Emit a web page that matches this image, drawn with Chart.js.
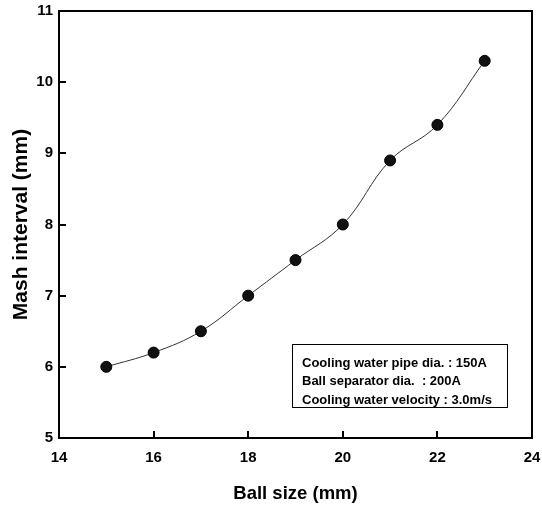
<!DOCTYPE html>
<html>
<head>
<meta charset="utf-8">
<script src="https://cdn.jsdelivr.net/npm/chart.js@4"></script>
<style>
  html, body { margin: 0; padding: 0; background: #fff; }
  #wrap { width: 542px; height: 508px; }
</style>
</head>
<body>
<div id="wrap"><canvas id="c" width="542" height="508"></canvas></div>
<script>
// values
const ballSize = [15, 16, 17, 18, 19, 20, 21, 22, 23];
const mashInterval = [6.0, 6.2, 6.5, 7.0, 7.5, 8.0, 8.9, 9.4, 10.3];
const xTicks = [14, 16, 18, 20, 22, 24];
const yTicks = [5, 6, 7, 8, 9, 10, 11];
const noteLines = [
  'Cooling water pipe dia. : 150A',
  'Ball separator dia.  : 200A',
  'Cooling water velocity : 3.0m/s'
];

const FONT = '"Liberation Sans", Arial, sans-serif';

// frame, inward ticks and the note box
const framePlugin = {
  id: 'frame',
  afterDraw(chart) {
    const { ctx, chartArea: a, scales } = chart;
    ctx.save();
    ctx.strokeStyle = '#000';
    ctx.lineWidth = 2;
    ctx.strokeRect(a.left, a.top, a.right - a.left, a.bottom - a.top);

    ctx.beginPath();
    xTicks.forEach(v => {
      const px = Math.round(scales.x.getPixelForValue(v));
      ctx.moveTo(px, a.bottom);
      ctx.lineTo(px, a.bottom - 7);
    });
    yTicks.forEach(v => {
      const py = Math.round(scales.y.getPixelForValue(v));
      ctx.moveTo(a.left, py);
      ctx.lineTo(a.left + 7, py);
    });
    ctx.stroke();

    // note box
    const bx = 292, by = 344, bw = 215, bh = 63;
    ctx.lineWidth = 1;
    ctx.strokeRect(bx + 0.5, by + 0.5, bw, bh);
    ctx.fillStyle = '#000';
    ctx.font = 'bold 13px ' + FONT;
    ctx.textBaseline = 'middle';
    noteLines.forEach((t, i) => ctx.fillText(t, bx + 10, by + 19 + i * 18.5));
    ctx.restore();
  }
};

new Chart(document.getElementById('c'), {
  type: 'line',
  data: {
    labels: ballSize,
    datasets: [{
      data: ballSize.map((x, i) => ({ x, y: mashInterval[i] })),
      borderColor: '#333',
      borderWidth: 1,
      tension: 0.4,
      pointRadius: 5.5,
      pointBackgroundColor: '#111',
      pointBorderColor: '#000',
      pointBorderWidth: 1,
      fill: false
    }]
  },
  options: {
    responsive: false,
    animation: false,
    devicePixelRatio: 1,
    layout: { padding: { top: 11, right: 10, left: 9, bottom: 3 } },
    plugins: { legend: { display: false }, tooltip: { enabled: false } },
    scales: {
      x: {
        type: 'linear',
        min: 14, max: 24,
        afterFit: s => { s.height = 67; s.paddingLeft = 0; s.paddingRight = 0; },
        afterBuildTicks: s => { s.ticks = xTicks.map(v => ({ value: v })); },
        grid: { display: false, drawTicks: false },
        border: { display: false },
        ticks: { color: '#000', padding: 11, font: { family: FONT, size: 15, weight: 'bold' } },
        title: {
          display: true, text: 'Ball size (mm)', color: '#000',
          font: { family: FONT, size: 18.5, weight: 'bold' }, padding: { top: 0, bottom: 0 }
        }
      },
      y: {
        min: 5, max: 11,
        afterFit: s => { s.width = 50; s.paddingTop = 0; s.paddingBottom = 0; },
        afterBuildTicks: s => { s.ticks = yTicks.map(v => ({ value: v })); },
        grid: { display: false, drawTicks: false },
        border: { display: false },
        ticks: { color: '#000', padding: 6, font: { family: FONT, size: 15, weight: 'bold' } },
        title: {
          display: true, text: 'Mash interval (mm)', color: '#000',
          font: { family: FONT, size: 21, weight: 'bold' }, padding: { top: 0, bottom: 0 }
        }
      }
    }
  },
  plugins: [framePlugin]
});
</script>
</body>
</html>
